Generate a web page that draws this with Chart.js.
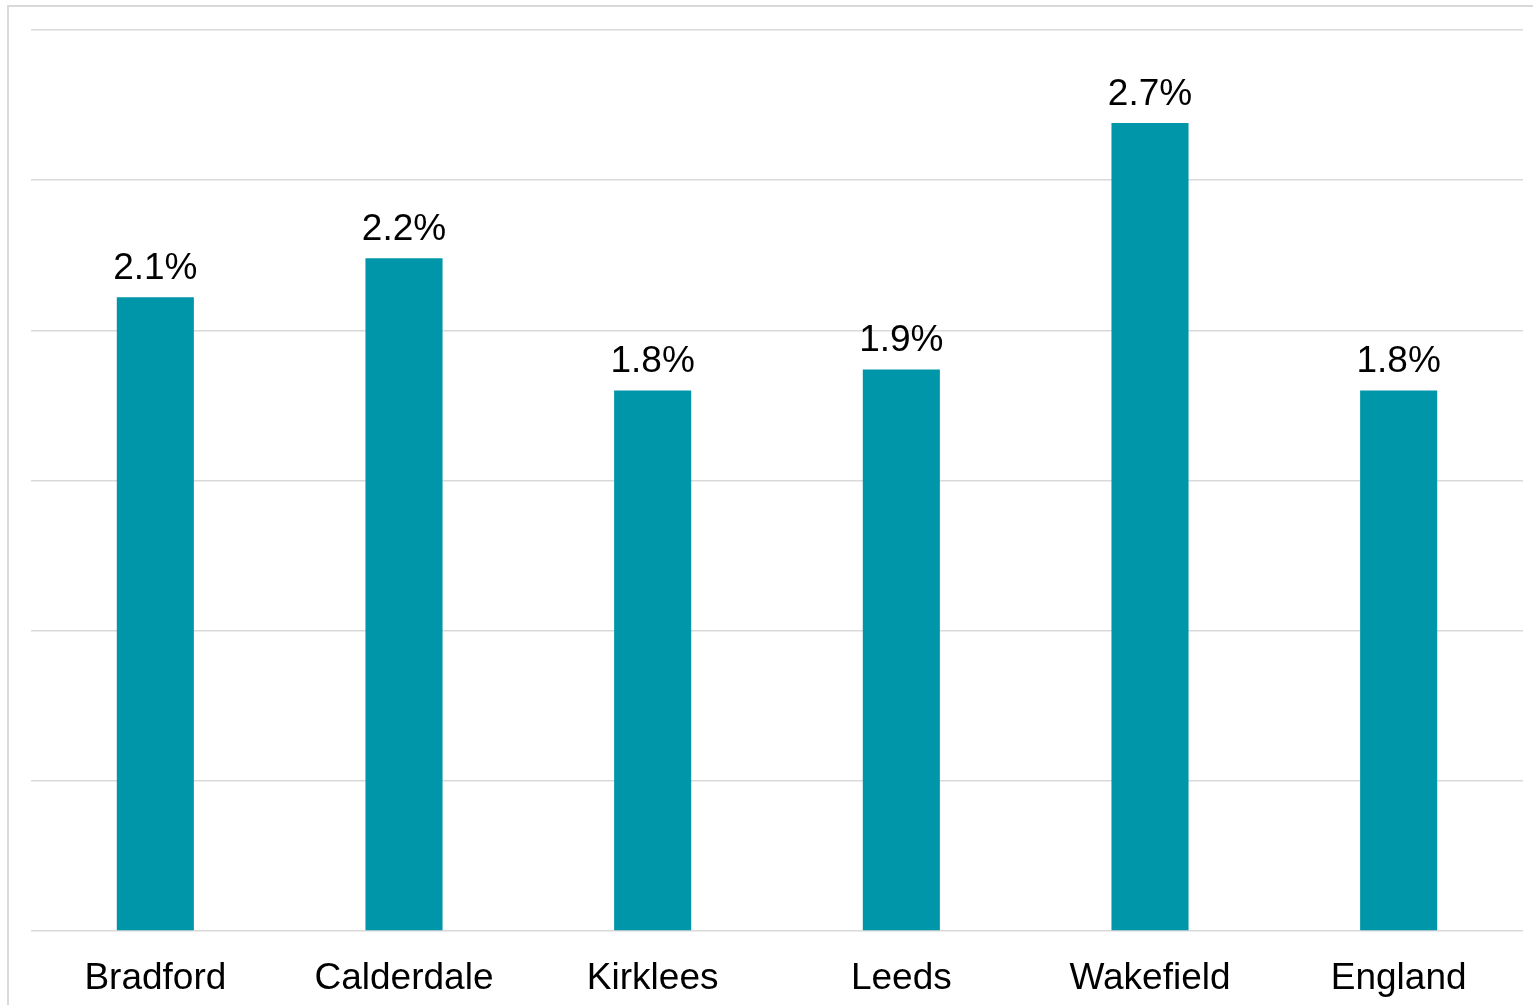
<!DOCTYPE html>
<html>
<head>
<meta charset="utf-8">
<script src="https://cdn.jsdelivr.net/npm/chart.js@4"></script>
<style>
    html, body { margin: 0; padding: 0; background: #fff; overflow: hidden; }
    #wrap { width: 1533px; height: 1005px; position: relative; }
</style>
</head>
<body>
<div id="wrap"><canvas id="barChart"></canvas></div>
<script>
const areas = ['Bradford', 'Calderdale', 'Kirklees', 'Leeds', 'Wakefield', 'England'];
const rates = [2.11, 2.24, 1.80, 1.87, 2.69, 1.80];
const yTicks = [0, 0.5, 1, 1.5, 2, 2.5, 3];

const fontFamily = '"Liberation Sans", Arial, sans-serif';

// frame around the whole chart, like the exported Excel picture
const framePlugin = {
    id: 'frame',
    beforeDraw(chart) {
        const ctx = chart.ctx;
        ctx.save();
        ctx.strokeStyle = '#d9d9d9';
        ctx.lineWidth = 2;
        ctx.strokeRect(8, 6, 2000, 2000);
        ctx.restore();
    }
};

// value labels above the bars
const valueLabels = {
    id: 'valueLabels',
    afterDatasetsDraw(chart) {
        const ctx = chart.ctx;
        const meta = chart.getDatasetMeta(0);
        ctx.save();
        ctx.font = '37px ' + fontFamily;
        ctx.fillStyle = '#000';
        ctx.textAlign = 'center';
        ctx.textBaseline = 'alphabetic';
        meta.data.forEach((bar, i) => {
            ctx.fillText(rates[i].toFixed(1) + '%', bar.x, bar.y - 18);
        });
        ctx.restore();
    }
};

new Chart(document.getElementById('barChart'), {
    type: 'bar',
    data: {
        labels: areas,
        datasets: [{
            data: rates,
            backgroundColor: '#0096a9',
            borderWidth: 0,
            categoryPercentage: 1,
            barPercentage: 0.31
        }]
    },
    options: {
        responsive: true,
        maintainAspectRatio: false,
        animation: false,
        layout: { padding: { left: 31, right: 10, top: 30, bottom: 0 } },
        plugins: {
            legend: { display: false },
            tooltip: { enabled: false }
        },
        scales: {
            x: {
                grid: { display: false },
                border: { display: false },
                ticks: {
                    color: '#000',
                    padding: 18,
                    maxRotation: 0,
                    font: { family: fontFamily, size: 37 }
                },
                afterFit: (scale) => { scale.height = 74; }
            },
            y: {
                min: yTicks[0],
                max: yTicks[yTicks.length - 1],
                afterBuildTicks: (scale) => { scale.ticks = yTicks.map(v => ({ value: v })); },
                grid: { color: '#d9d9d9', lineWidth: 1.5, drawTicks: false },
                border: { display: false },
                ticks: { display: false },
                afterFit: (scale) => { scale.width = 0; }
            }
        }
    },
    plugins: [framePlugin, valueLabels]
});
</script>
</body>
</html>
